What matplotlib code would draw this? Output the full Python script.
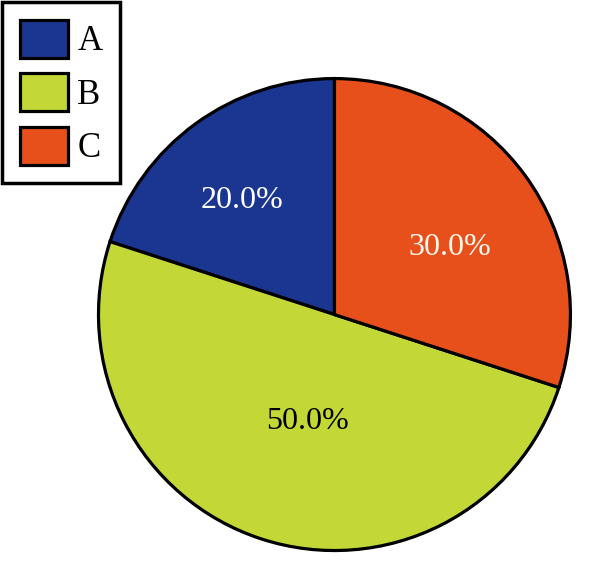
import matplotlib.pyplot as plt
import numpy as np

plt.rcParams['font.family'] = ['Liberation Serif', 'DejaVu Serif']

labels = ['A', 'B', 'C']
shares = [20, 50, 30]
colors = ['#1b3690', '#c3d837', '#e8501b']
pct_colors = ['white', 'black', '#fff8ee']
# label radius and angle nudge (deg) per slice
pct_dist = [0.62, 0.465, 0.565]
pct_shift = [3, 4, -6]

fig = plt.figure(figsize=(6.04, 5.88), dpi=100)
ax = fig.add_axes([0.1591, 0.0597, 0.7893, 0.8107])

wedges, texts, autotexts = ax.pie(
    shares, colors=colors, startangle=90, counterclock=True,
    wedgeprops=dict(edgecolor='black', linewidth=2.3),
    autopct='%1.1f%%', textprops=dict(fontsize=23),
)

for w, t, c, d, s in zip(wedges, autotexts, pct_colors, pct_dist, pct_shift):
    mid = np.deg2rad((w.theta1 + w.theta2) / 2 + s)
    t.set_position((d * np.cos(mid), d * np.sin(mid)))
    t.set_color(c)

ax.set_xlim(-1.01, 1.01)
ax.set_ylim(-1.01, 1.01)
ax.set_aspect('equal')

leg = fig.legend(wedges, labels, loc='upper left', bbox_to_anchor=(0.003, 0.997),
                 borderaxespad=0, fontsize=25, frameon=True, fancybox=False,
                 framealpha=1, edgecolor='black', handlelength=1.38,
                 handleheight=1.3, handletextpad=0.27, labelspacing=0.43,
                 borderpad=0.52)
leg.get_frame().set_linewidth(2.5)

fig.savefig('out.png', dpi=100)
